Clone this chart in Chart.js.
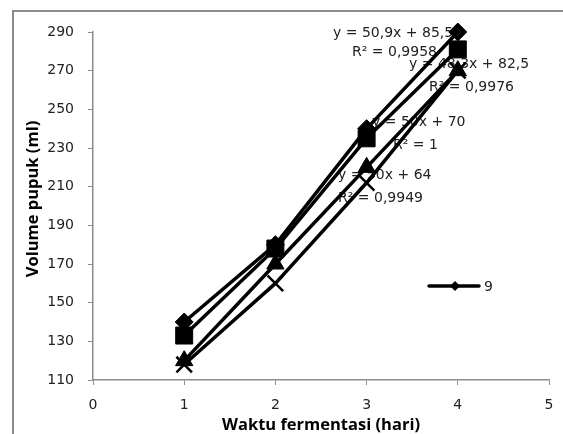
<!DOCTYPE html>
<html><head><meta charset="utf-8">
<script src="https://cdn.jsdelivr.net/npm/chart.js@4"></script>
<style>html,body{margin:0;padding:0;background:#fff}#wrap{width:563px;height:434px;position:relative}</style>
</head><body><div id="wrap"><canvas id="c" width="563" height="434"></canvas></div>
<script>
const days = [1, 2, 3, 4];
const seriesDiamond = [140, 180, 240, 290];
const seriesSquare = [133, 178, 235, 281];
const seriesTriangle = [120, 170, 220, 270];
const seriesCross = [118, 160, 212, 270];
const trendLabels = [
  ["y = 50,9x + 85,5", "R² = 0,9958"],
  ["y = 48,3x + 82,5", "R² = 0,9976"],
  ["y = 50x + 70", "R² = 1"],
  ["y = 50x + 64", "R² = 0,9949"]
];
const legendLabel = "9";
const yTicks = [110, 130, 150, 170, 190, 210, 230, 250, 270, 290];
const xTicks = [0, 1, 2, 3, 4, 5];
const xTitle = 'Waktu fermentasi (hari)';
const yTitle = 'Volume pupuk (ml)';

const pts = arr => days.map((d, i) => ({x: d, y: arr[i]}));

const styles = [
  {pointStyle: 'rectRot', radius: 9, bw: 1},
  {pointStyle: 'rect', radius: 12, bw: 1},
  {pointStyle: 'triangle', radius: 10, bw: 1},
  {pointStyle: 'crossRot', radius: 11, bw: 2.5}
];
const values = [seriesDiamond, seriesSquare, seriesTriangle, seriesCross];
const datasets = values.map((v, k) => ({
  type: 'line', label: k === 0 ? legendLabel : 's' + k, data: pts(v),
  borderColor: '#000', backgroundColor: '#000', borderWidth: 3.5,
  pointStyle: styles[k].pointStyle, pointRadius: styles[k].radius, pointBorderWidth: styles[k].bw,
  pointBorderColor: '#000', pointBackgroundColor: '#000', tension: 0, clip: false
}));

const labelPos = [
  [[333, 33], [352, 52]],
  [[409, 64], [429, 87]],
  [[372, 122], [393, 145]],
  [[338, 175], [338, 198]]
];
const FONT = '14px "DejaVu Sans", sans-serif';
const TITLE_FONT = 'bold 16.5px "Open Sans", sans-serif';

const textPlugin = {
  id: 'texts',
  beforeDraw(chart) {
    const ctx = chart.ctx;
    ctx.save();
    ctx.fillStyle = '#fff';
    ctx.fillRect(0, 0, chart.width, chart.height);
    ctx.strokeStyle = '#8c8c8c';
    ctx.lineWidth = 2;
    ctx.strokeRect(13, 11, 700, 600);
    ctx.fillStyle = '#000';
    ctx.font = TITLE_FONT;
    ctx.textAlign = 'center';
    ctx.textBaseline = 'middle';
    ctx.save();
    ctx.translate(33, 199);
    ctx.rotate(-Math.PI / 2);
    ctx.fillText(yTitle, 0, 0);
    ctx.restore();
    ctx.fillText(xTitle, 321, 425);
    ctx.restore();
  },
  beforeDatasetsDraw(chart) {
    const ctx = chart.ctx;
    ctx.save();
    ctx.font = FONT;
    ctx.fillStyle = '#222';
    ctx.textBaseline = 'middle';
    ctx.textAlign = 'left';
    trendLabels.forEach((pair, k) => {
      pair.forEach((t, j) => ctx.fillText(t, labelPos[k][j][0], labelPos[k][j][1]));
    });
    ctx.restore();
  },
  afterDatasetsDraw(chart) {
    const ctx = chart.ctx;
    ctx.save();
    ctx.strokeStyle = '#000';
    ctx.lineWidth = 3.5;
    ctx.lineCap = 'round';
    ctx.beginPath(); ctx.moveTo(429, 286); ctx.lineTo(479, 286); ctx.stroke();
    ctx.fillStyle = '#000';
    ctx.beginPath(); ctx.moveTo(455, 281); ctx.lineTo(460, 286); ctx.lineTo(455, 291); ctx.lineTo(450, 286); ctx.closePath(); ctx.fill();
    ctx.font = FONT;
    ctx.fillStyle = '#222';
    ctx.textBaseline = 'middle';
    ctx.fillText(legendLabel, 484, 287);
    ctx.restore();
  }
};

new Chart(document.getElementById('c'), {
  data: {datasets},
  options: {
    responsive: false,
    animation: false,
    layout: {padding: {left: 0, right: 14, top: 32, bottom: 0}},
    plugins: {legend: {display: false}, tooltip: {enabled: false}},
    elements: {line: {borderCapStyle: 'round', borderJoinStyle: 'round'}},
    scales: {
      x: {
        type: 'linear', min: 0, max: 5,
        afterFit(s) { s.height = 54; s.paddingLeft = 0; s.paddingRight = 0; },
        afterBuildTicks(s) { s.ticks = xTicks.map(v => ({value: v})); },
        border: {color: '#8c8c8c', width: 1.5},
        grid: {drawOnChartArea: false, drawTicks: true, tickLength: 5, color: '#8c8c8c'},
        ticks: {color: '#222', font: {size: 14, family: '"DejaVu Sans", sans-serif'}, padding: 12, maxRotation: 0},
        title: {display: false}
      },
      y: {
        type: 'linear', min: 110, max: 290,
        afterFit(s) { s.width = 93; s.paddingTop = 0; s.paddingBottom = 0; },
        afterBuildTicks(s) { s.ticks = yTicks.map(v => ({value: v})); },
        border: {color: '#8c8c8c', width: 1.5},
        grid: {drawOnChartArea: false, drawTicks: true, tickLength: 5, color: '#8c8c8c'},
        ticks: {color: '#222', font: {size: 14, family: '"DejaVu Sans", sans-serif'}, padding: 14},
        title: {display: false}
      }
    }
  },
  plugins: [textPlugin]
});
</script></body></html>
